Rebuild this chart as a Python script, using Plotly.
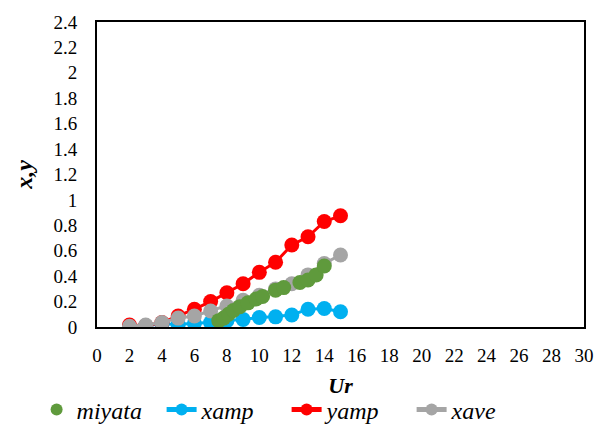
import plotly.graph_objects as go

ur = [2, 3, 4, 5, 6, 7, 8, 9, 10, 11, 12, 13, 14, 15]
xamp = [0.005, 0.01, 0.025, 0.02, 0.03, 0.035, 0.05, 0.06, 0.075, 0.08, 0.095, 0.14, 0.145, 0.12]
yamp = [0.015, 0.01, 0.035, 0.087, 0.14, 0.2, 0.27, 0.34, 0.43, 0.51, 0.645, 0.71, 0.83, 0.875]
xave = [0.005, 0.016, 0.035, 0.07, 0.087, 0.126, 0.165, 0.21, 0.25, 0.3, 0.34, 0.41, 0.5, 0.567]

miyata_x = [7.5, 7.8, 8.1, 8.4, 8.8, 9.3, 9.8, 10.2, 11.0, 11.5, 12.5, 13.0, 13.5, 14.0]
miyata_y = [0.05, 0.07, 0.1, 0.13, 0.16, 0.19, 0.22, 0.24, 0.29, 0.31, 0.35, 0.37, 0.41, 0.48]

x_ticks = list(range(0, 31, 2))
y_ticks = [0, 0.2, 0.4, 0.6, 0.8, 1, 1.2, 1.4, 1.6, 1.8, 2, 2.2, 2.4]
y_tick_text = ["0", "0.2", "0.4", "0.6", "0.8", "1", "1.2", "1.4", "1.6", "1.8", "2", "2.2", "2.4"]

FONT = "Liberation Serif, Times New Roman, serif"
MS = 15

fig = go.Figure()
fig.add_trace(go.Scatter(x=ur, y=xamp, name="xamp", mode="lines+markers",
                         line=dict(color="#00B0F0", width=3),
                         marker=dict(color="#00B0F0", size=MS), legendrank=2))
fig.add_trace(go.Scatter(x=ur, y=yamp, name="yamp", mode="lines+markers",
                         line=dict(color="#FF0000", width=3),
                         marker=dict(color="#FF0000", size=MS), legendrank=3))
fig.add_trace(go.Scatter(x=ur, y=xave, name="xave", mode="lines+markers",
                         line=dict(color="#A5A5A5", width=3),
                         marker=dict(color="#A5A5A5", size=MS), legendrank=4))
fig.add_trace(go.Scatter(x=miyata_x, y=miyata_y, name="miyata", mode="markers",
                         marker=dict(color="#5F9A3C", size=MS), legendrank=1))

fig.update_layout(
    width=599, height=433,
    margin=dict(l=97, r=15, t=22, b=106, autoexpand=False),
    paper_bgcolor="white", plot_bgcolor="white",
    font=dict(family=FONT, size=19, color="black"),
    showlegend=True,
    legend=dict(orientation="h", x=-0.124, xanchor="left",
                y=-0.272, yanchor="middle",
                font=dict(family=FONT, size=24, style="italic"),
                entrywidth=80, itemsizing="constant", traceorder="normal"),
)
fig.update_xaxes(range=[0, 30], tickvals=x_ticks, ticktext=[str(v) for v in x_ticks],
                 showgrid=False, zeroline=False, showline=True, mirror=True,
                 linecolor="black", linewidth=2, ticks="", ticklabelstandoff=10,
                 title=dict(text="Ur", font=dict(family=FONT, size=22, weight="bold", style="italic"),
                            standoff=13),
                 tickfont=dict(family=FONT, size=19))
fig.update_yaxes(range=[0, 2.4], tickvals=y_ticks, ticktext=y_tick_text,
                 showgrid=False, zeroline=False, showline=True, mirror=True,
                 linecolor="black", linewidth=2, ticks="", ticklabelstandoff=14,
                 title=dict(text="x,y", font=dict(family=FONT, size=24, weight="bold", style="italic"),
                            standoff=14),
                 tickfont=dict(family=FONT, size=19))

fig.write_html("out.html", config={"displayModeBar": False},
               post_script="document.body.style.margin='0';document.body.style.padding='0';")
